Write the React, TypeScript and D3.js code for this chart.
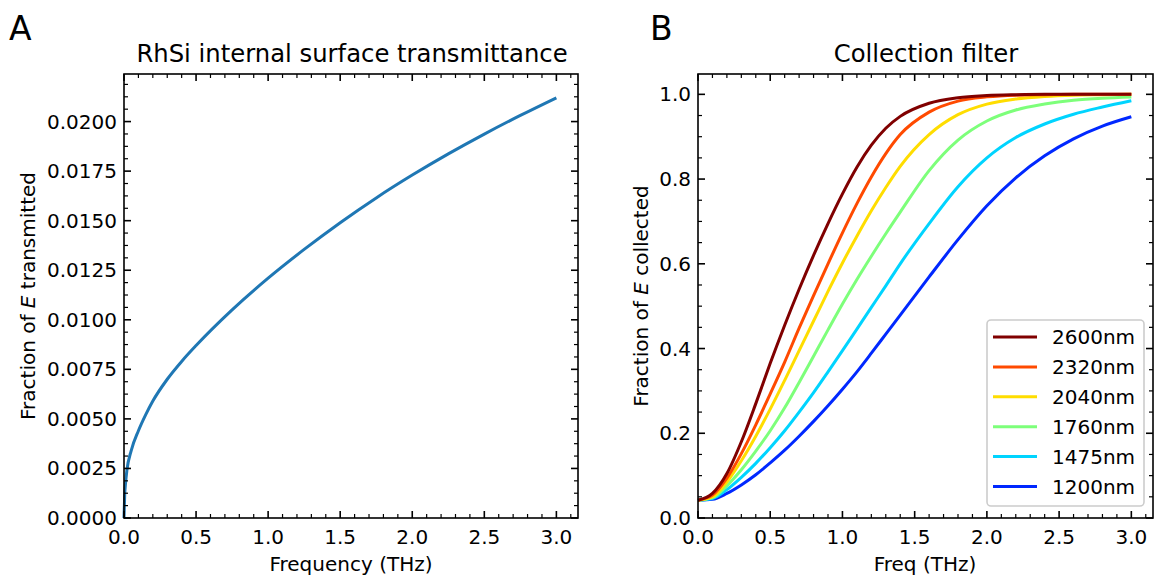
import React from "react";
import * as d3 from "d3";

// ---------- Data ----------
const freqA = [0, 0.005, 0.01, 0.02, 0.05, 0.1, 0.15, 0.2, 0.3, 0.4, 0.5, 0.75, 1.0, 1.25, 1.5, 1.75, 2.0, 2.25, 2.5, 2.75, 3.0];
const transA = [0, 0.0012, 0.0017, 0.0024, 0.0034, 0.0044, 0.0052, 0.0059, 0.0070, 0.0079, 0.0087, 0.0105, 0.0121, 0.01355, 0.0149, 0.01615, 0.0173, 0.01837, 0.01937, 0.02031, 0.0212];

const freqB = [0, 0.1, 0.2, 0.3, 0.4, 0.5, 0.6, 0.7, 0.8, 0.9, 1.0, 1.1, 1.2, 1.3, 1.4, 1.6, 1.8, 2.0, 2.2, 2.4, 2.6, 2.8, 3.0];
const labelsB = ["2600nm", "2320nm", "2040nm", "1760nm", "1475nm", "1200nm"];
const colorsB = ["#800000", "#ff4a00", "#ffdd00", "#7dff7a", "#00d4ff", "#0028ff"];
const s2600 = [0.042, 0.058, 0.105, 0.18, 0.27, 0.365, 0.455, 0.54, 0.62, 0.695, 0.765, 0.828, 0.88, 0.92, 0.948, 0.979, 0.992, 0.997, 0.999, 1.0, 1.0, 1.0, 1.0];
const s2320 = [0.042, 0.054, 0.094, 0.152, 0.22, 0.293, 0.368, 0.448, 0.525, 0.6, 0.673, 0.742, 0.805, 0.86, 0.905, 0.958, 0.984, 0.994, 0.998, 0.999, 1.0, 1.0, 1.0];
const s2040 = [0.042, 0.05, 0.085, 0.135, 0.193, 0.257, 0.325, 0.395, 0.465, 0.535, 0.602, 0.665, 0.725, 0.78, 0.83, 0.905, 0.952, 0.977, 0.989, 0.995, 0.998, 0.999, 1.0];
const s1760 = [0.042, 0.048, 0.076, 0.114, 0.158, 0.206, 0.26, 0.32, 0.382, 0.444, 0.505, 0.563, 0.618, 0.671, 0.722, 0.82, 0.892, 0.937, 0.963, 0.977, 0.986, 0.991, 0.994];
const s1475 = [0.042, 0.046, 0.067, 0.096, 0.129, 0.166, 0.206, 0.25, 0.296, 0.345, 0.395, 0.446, 0.497, 0.548, 0.6, 0.695, 0.782, 0.85, 0.898, 0.93, 0.953, 0.97, 0.985];
const s1200 = [0.042, 0.044, 0.058, 0.078, 0.102, 0.13, 0.16, 0.193, 0.228, 0.265, 0.304, 0.345, 0.389, 0.434, 0.479, 0.569, 0.657, 0.737, 0.803, 0.855, 0.895, 0.925, 0.947];
const seriesB = [s2600, s2320, s2040, s1760, s1475, s1200];

const xTicks = [0, 0.5, 1.0, 1.5, 2.0, 2.5, 3.0];
const yTicksA = [0, 0.0025, 0.005, 0.0075, 0.01, 0.0125, 0.015, 0.0175, 0.02];
const yTicksB = [0, 0.2, 0.4, 0.6, 0.8, 1.0];

// ---------- Layout ----------
const W = 1159;
const H = 577;
const FONT = "DejaVu Sans, Verdana, sans-serif";
const TOP = 74;
const BOTTOM = 518;

function range(start: number, stop: number, step: number) {
  const out: number[] = [];
  for (let i = 0; start + i * step <= stop + 1e-9; i++) out.push(+(start + i * step).toFixed(6));
  return out;
}

function Axes({ x, y, xMinor, yMinor, yTicks, yFmt }: any) {
  const [x0, x1] = x.range();
  const [y0, y1] = y.range();
  const MAJ = 7;
  const MIN = 4;
  const els: any[] = [];
  xTicks.forEach((t, i) => {
    const px = x(t);
    els.push(<line key={"xb" + i} x1={px} x2={px} y1={y0} y2={y0 - MAJ} stroke="#000" strokeWidth={1.6} />);
    els.push(<line key={"xt" + i} x1={px} x2={px} y1={y1} y2={y1 + MAJ} stroke="#000" strokeWidth={1.6} />);
    els.push(
      <text key={"xl" + i} x={px} y={544} textAnchor="middle" fontSize={20} fontFamily={FONT}>
        {d3.format(".1f")(t)}
      </text>
    );
  });
  xMinor.forEach((t: number, i: number) => {
    const px = x(t);
    els.push(<line key={"xmb" + i} x1={px} x2={px} y1={y0} y2={y0 - MIN} stroke="#000" strokeWidth={1.2} />);
    els.push(<line key={"xmt" + i} x1={px} x2={px} y1={y1} y2={y1 + MIN} stroke="#000" strokeWidth={1.2} />);
  });
  yTicks.forEach((t: number, i: number) => {
    const py = y(t);
    els.push(<line key={"yl" + i} x1={x0} x2={x0 + MAJ} y1={py} y2={py} stroke="#000" strokeWidth={1.6} />);
    els.push(<line key={"yr" + i} x1={x1} x2={x1 - MAJ} y1={py} y2={py} stroke="#000" strokeWidth={1.6} />);
    els.push(
      <text key={"ylab" + i} x={x0 - 7} y={py + 7} textAnchor="end" fontSize={20} fontFamily={FONT}>
        {yFmt(t)}
      </text>
    );
  });
  yMinor.forEach((t: number, i: number) => {
    const py = y(t);
    els.push(<line key={"yml" + i} x1={x0} x2={x0 + MIN} y1={py} y2={py} stroke="#000" strokeWidth={1.2} />);
    els.push(<line key={"ymr" + i} x1={x1} x2={x1 - MIN} y1={py} y2={py} stroke="#000" strokeWidth={1.2} />);
  });
  els.push(
    <rect key="frame" x={x0} y={y1} width={x1 - x0} height={y0 - y1} fill="none" stroke="#000" strokeWidth={1.6} />
  );
  return <g>{els}</g>;
}

export default function App() {
  // Panel A
  const xA = d3.scaleLinear().domain([0, 3.15]).range([124, 578]);
  const yA = d3.scaleLinear().domain([0, 0.0224]).range([BOTTOM, TOP]);
  const lineA = d3
    .line<number>()
    .x((_, i) => xA(freqA[i]))
    .y((d) => yA(d))
    .curve(d3.curveMonotoneX);

  // Panel B
  const xB = d3.scaleLinear().domain([0, 3.15]).range([698, 1153]);
  const yB = d3.scaleLinear().domain([0, 1.048]).range([BOTTOM, TOP]);
  const lineB = d3
    .line<number>()
    .x((_, i) => xB(freqB[i]))
    .y((d) => yB(d))
    .curve(d3.curveMonotoneX);

  const xMinor = range(0, 3.1, 0.1).filter((t) => Math.abs(t * 2 - Math.round(t * 2)) > 1e-6);
  const yMinorA = range(0, 0.0224, 0.000625).filter((t) => Math.abs(t / 0.0025 - Math.round(t / 0.0025)) > 1e-6);
  const yMinorB = range(0, 1.04, 0.05).filter((t) => Math.abs(t / 0.2 - Math.round(t / 0.2)) > 1e-6);

  const legX = 987;
  const legY = 320;
  const rowH = 29.9;

  return (
    <svg
      width={W}
      height={H}
      viewBox={`0 0 ${W} ${H}`}
      style={{ position: "absolute", left: 0, top: 0, background: "#fff" }}
    >
      <rect x={0} y={0} width={W} height={H} fill="#fff" />
      {/* Panel A */}
      <text x={9} y={40} fontSize={33} fontFamily={FONT}>A</text>
      <text x={352} y={62} textAnchor="middle" fontSize={24.3} fontFamily={FONT}>
        RhSi internal surface transmittance
      </text>
      <path d={lineA(transA) || ""} fill="none" stroke="#1f77b4" strokeWidth={3} />
      <Axes x={xA} y={yA} xMinor={xMinor} yMinor={yMinorA} yTicks={yTicksA} yFmt={d3.format(".4f")} />
      <text x={351} y={571} textAnchor="middle" fontSize={20} fontFamily={FONT}>
        Frequency (THz)
      </text>
      <text transform={`translate(35,296) rotate(-90)`} textAnchor="middle" fontSize={20} fontFamily={FONT}>
        Fraction of <tspan fontStyle="italic">E</tspan> transmitted
      </text>

      {/* Panel B */}
      <text x={650} y={40} fontSize={33} fontFamily={FONT}>B</text>
      <text x={926} y={62} textAnchor="middle" fontSize={24.3} fontFamily={FONT}>
        Collection filter
      </text>
      {seriesB
        .slice()
        .reverse()
        .map((s, j) => {
          const i = seriesB.length - 1 - j;
          return <path key={i} d={lineB(s) || ""} fill="none" stroke={colorsB[i]} strokeWidth={3} />;
        })}
      <Axes x={xB} y={yB} xMinor={xMinor} yMinor={yMinorB} yTicks={yTicksB} yFmt={d3.format(".1f")} />
      <text x={925} y={571} textAnchor="middle" fontSize={20} fontFamily={FONT}>
        Freq (THz)
      </text>
      <text transform={`translate(648,296) rotate(-90)`} textAnchor="middle" fontSize={20} fontFamily={FONT}>
        Fraction of <tspan fontStyle="italic">E</tspan> collected
      </text>

      {/* Legend */}
      <rect x={legX} y={legY} width={157} height={186} rx={4} fill="#fff" fillOpacity={0.8} stroke="#cccccc" strokeWidth={1.6} />
      {labelsB.map((lab, i) => (
        <g key={lab}>
          <line x1={993} x2={1037} y1={legY + 17 + i * rowH} y2={legY + 17 + i * rowH} stroke={colorsB[i]} strokeWidth={3} />
          <text x={1052} y={legY + 17 + i * rowH + 7} fontSize={20} fontFamily={FONT}>
            {lab}
          </text>
        </g>
      ))}
    </svg>
  );
}
